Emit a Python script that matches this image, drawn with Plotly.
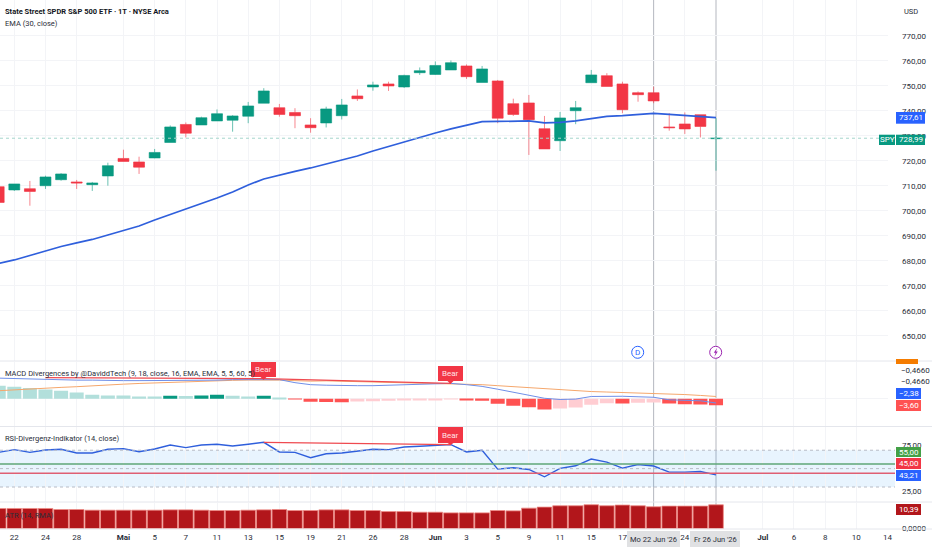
import plotly.graph_objects as go

# candle data, one entry per daily bar
opens = [709.6, 708.3, 708.8, 710.0, 712.4, 711.5, 710.4, 713.9, 720.9, 719.5, 721.1, 727.3, 734.5, 734.3, 735.9, 736.2,
         737.8, 743.0, 741.2, 739.3, 734.3, 735.1, 738.0, 745.9, 749.5, 750.7, 749.5, 755.2, 754.5, 756.3, 757.9, 751.3,
         751.9, 742.8, 743.1, 732.8, 728.0, 740.0, 751.2, 754.0, 750.7, 747.2, 747.2, 733.5, 734.7, 738.4, 728.8]
highs = [710.0, 710.7, 711.9, 714.0, 715.0, 712.3, 711.5, 719.2, 724.4, 721.6, 724.7, 734.1, 735.3, 737.6, 740.5, 738.2,
         743.5, 749.0, 742.7, 741.0, 737.0, 741.6, 744.7, 748.5, 751.6, 751.6, 754.4, 757.3, 759.7, 760.1, 758.5, 757.9,
         752.3, 744.8, 746.3, 737.9, 739.5, 743.9, 756.3, 755.0, 751.6, 747.7, 749.6, 739.0, 739.3, 738.4, 737.0]
lows = [703.0, 707.9, 702.0, 708.7, 712.0, 708.7, 707.9, 710.0, 719.7, 714.7, 721.0, 727.3, 729.3, 734.3, 735.9, 731.6,
        735.0, 743.0, 737.6, 733.0, 731.2, 733.3, 736.5, 743.9, 748.0, 747.9, 749.1, 754.3, 754.3, 756.3, 752.7, 751.3,
        735.0, 737.9, 722.3, 724.7, 723.9, 734.6, 751.2, 749.7, 739.0, 743.6, 743.0, 732.0, 730.7, 729.3, 716.0]
closes = [703.3, 710.7, 707.7, 713.5, 714.7, 711.1, 711.1, 718.0, 719.7, 717.4, 723.3, 733.5, 731.0, 737.2, 738.8, 737.9,
          741.9, 747.9, 738.5, 738.0, 733.2, 740.7, 742.3, 744.8, 750.3, 749.9, 754.1, 756.0, 758.1, 759.2, 753.6, 756.7,
          737.0, 738.5, 736.4, 724.7, 737.1, 741.2, 754.3, 749.7, 740.4, 746.4, 743.9, 733.2, 732.7, 733.7, 728.99]
ema = [678.9, 680.3, 682.1, 683.9, 685.7, 687.1, 688.5, 690.3, 692.1, 693.9, 696.3, 698.5, 700.7, 702.7, 705.1, 707.5,
       710.3, 712.7, 714.3, 715.7, 717.1, 718.7, 720.1, 721.9, 723.9, 725.7, 727.7, 729.5, 731.1, 732.7, 734.3, 735.6,
       735.7, 735.8, 735.9, 735.1, 735.3, 735.9, 736.9, 737.7, 738.0, 738.5, 738.9, 738.5, 738.1, 737.7, 737.2]

macd_hist = [7.43, 6.86, 6.1, 5.33, 4.57, 3.62, 2.29, 1.9, 1.85, 1.33, 1.3, 1.71, 1.62, 1.81, 2.29, 1.71,
             1.33, 1.71, 0.76, -0.38, -1.71, -1.8, -1.9, -1.52, -1.33, -1.14, -0.95, -0.76, -0.57, -0.38, -0.95, -1.05,
             -2.86, -4.0, -4.76, -6.1, -5.52, -4.95, -3.43, -2.48, -2.67, -2.29, -2.1, -2.67, -3.05, -3.24, -3.6]
macd_line = [11.71, 11.43, 11.14, 10.86, 10.86, 10.57, 10.57, 10.29, 10.29, 10.29, 10.29, 10.29, 10.57, 10.57, 10.57, 10.86,
             10.86, 11.14, 10.86, 9.14, 8.0, 7.71, 7.43, 7.43, 7.43, 7.71, 8.0, 8.29, 8.57, 8.74, 8.0, 7.03,
             5.43, 3.71, 2.29, 0.29, -0.4, -0.17, 1.31, 1.54, 1.43, 1.14, 0.86, -0.57, -0.86, -1.14, -2.38]
macd_signal = [4.57, 5.14, 5.6, 6.0, 6.46, 6.86, 7.43, 7.89, 8.29, 8.69, 9.03, 9.37, 9.71, 10.0, 10.29, 10.46,
               10.63, 10.74, 10.57, 10.29, 10.0, 10.17, 9.94, 9.71, 9.54, 9.31, 9.14, 9.03, 8.86, 8.74, 8.46, 8.0,
               7.43, 6.86, 6.29, 5.6, 5.03, 4.57, 4.11, 3.83, 3.54, 3.37, 3.2, 2.86, 2.4, 1.89, 1.31]
rsi = [67.7, 70.6, 67.7, 70.3, 71.0, 67.0, 67.0, 71.0, 71.7, 68.4, 71.3, 75.7, 72.8, 75.7, 76.5, 74.6,
       76.5, 78.6, 68.1, 67.7, 61.9, 66.2, 67.0, 69.2, 71.0, 70.6, 73.5, 74.3, 75.0, 76.1, 68.1, 69.9,
       49.5, 50.9, 49.1, 41.1, 50.2, 53.1, 60.4, 57.1, 50.6, 54.5, 52.8, 46.2, 46.2, 46.9, 43.21]
atr = [8.78, 8.78, 8.78, 8.78, 8.33, 8.33, 8.04, 8.04, 8.04, 8.04, 8.04, 8.18, 8.18, 8.04, 7.89, 7.89,
       8.04, 8.18, 8.33, 7.89, 7.89, 8.18, 8.18, 7.89, 7.89, 7.44, 7.44, 7.14, 7.14, 6.85, 6.85, 6.85,
       7.89, 7.74, 8.93, 9.38, 9.97, 9.97, 10.42, 9.97, 10.27, 9.97, 9.52, 9.82, 9.82, 9.82, 10.39]

# divergence lines: bar index and value
div_x = [3, 17, None, 17, 29]
div_macd = [12.0, 11.43, None, 11.43, 8.74]
div_rsi_x = [17, 29]
div_rsi = [78.6, 76.1]

tick_bars = [1, 3, 5, 8, 10, 12, 14, 16, 18, 20, 22, 24, 26, 28, 30, 32, 34, 36, 38, 40, 44, 49, 51, 53, 55, 57]
tick_text = ['22', '24', '28', '<b>Mai</b>', '5', '7', '11', '13', '15', '19', '21', '26', '28', '<b>Jun</b>', '3', '5', '9',
             '11', '15', '17', '24', '<b>Jul</b>', '6', '8', '10', '14']
price_ticks = [650, 660, 670, 680, 690, 700, 710, 720, 730, 740, 750, 760, 770]

W, H = 932, 550
FONT = 'Roboto'
FS = 8
LEGEND_FS = 7.5
TEXT = '#2a2e39'
GRID = '#f3f4f7'
bars = list(range(len(closes)))


def hist_color(i):
    prev = macd_hist[i - 1] if i else macd_hist[i] + 1
    if macd_hist[i] >= 0:
        return '#089981' if macd_hist[i] > prev else '#b2dfdb'
    return '#ff5252' if macd_hist[i] < prev else '#ffcdd2'


def ydom(top, bottom):
    return [1 - bottom / H, 1 - top / H]


fig = go.Figure()
fig.add_trace(go.Candlestick(x=bars, open=opens, high=highs, low=lows, close=closes, whiskerwidth=0, yaxis='y',
                             increasing=dict(line=dict(color='rgba(8,153,129,0.6)', width=1), fillcolor='#089981'),
                             decreasing=dict(line=dict(color='rgba(242,54,69,0.6)', width=1), fillcolor='#f23645')))
fig.add_trace(go.Scatter(x=bars, y=ema, mode='lines', line=dict(color='#2f5fdc', width=1.7), yaxis='y'))

fig.add_trace(go.Bar(x=bars, y=macd_hist, width=0.9, marker=dict(color=[hist_color(i) for i in bars], line_width=0), yaxis='y2'))
fig.add_trace(go.Scatter(x=bars, y=macd_signal, mode='lines', line=dict(color='#f5a76c', width=1), yaxis='y2'))
fig.add_trace(go.Scatter(x=bars, y=macd_line, mode='lines', line=dict(color='#6f8fe8', width=1), yaxis='y2'))
fig.add_trace(go.Scatter(x=div_x, y=div_macd, mode='lines', line=dict(color='#ef4a50', width=1.2), yaxis='y2'))

fig.add_trace(go.Scatter(x=bars, y=rsi, mode='lines', line=dict(color='#2f5fdc', width=1.4), yaxis='y3'))
fig.add_trace(go.Scatter(x=div_rsi_x, y=div_rsi, mode='lines', line=dict(color='#ef4a50', width=1.2), yaxis='y3'))

fig.add_trace(go.Bar(x=bars, y=atr, width=0.94, marker=dict(color='#b2161b', line=dict(color='#ee8a85', width=0.8)), yaxis='y4'))

shapes = []
notes = []


def px_rect(x0, y0, x1, y1, color, **kw):
    shapes.append(dict(type='rect', xref='paper', yref='paper', x0=x0 / W, x1=x1 / W, y0=1 - y1 / H, y1=1 - y0 / H,
                       fillcolor=color, line_width=0, **kw))


def px_text(x, y, text, color=TEXT, size=FS, anchor='left'):
    notes.append(dict(xref='paper', yref='paper', x=x / W, y=1 - y / H, text=text, showarrow=False, xanchor=anchor,
                      yanchor='middle', font=dict(color=color, size=size, family=FONT), borderpad=0, borderwidth=0))


def tag(x0, x1, y0, y1, text, color, text_color='white'):
    px_rect(x0, y0, x1, y1, color)
    px_text((x0 + x1) / 2, (y0 + y1) / 2, text, text_color, FS, 'center')


def bear(x0, x1, y0, y1, tip):
    px_rect(x0, y0, x1, y1, '#f23645')
    cx = (x0 + x1) / 2
    shapes.append(dict(type='path', xref='paper', yref='paper', fillcolor='#f23645', line_width=0,
                       path=f'M {(cx - 3) / W} {1 - y1 / H} L {(cx + 3) / W} {1 - y1 / H} L {cx / W} {1 - tip / H} Z'))
    px_text(cx, (y0 + y1) / 2, 'Bear', '#ffe3e5', FS, 'center')


# panel separators
for sep in [361, 426.5, 502, 529]:
    shapes.append(dict(type='line', xref='paper', yref='paper', x0=0, x1=1, y0=1 - sep / H, y1=1 - sep / H,
                       line=dict(color='#e4e6ec', width=1)))

# crosshair style verticals at 22 and 26 Jun
for b in [42, 46]:
    shapes.append(dict(type='line', xref='x', yref='paper', x0=b, x1=b, y0=1 - 529 / H, y1=1, layer='below',
                       line=dict(color='#b4b7bf', width=1)))

# last price line
shapes.append(dict(type='line', xref='paper', yref='y', x0=0, x1=888 / W, y0=closes[-1], y1=closes[-1],
                   line=dict(color='#a5d6cc', width=1, dash='dot')))

# RSI band and levels
shapes.append(dict(type='rect', xref='paper', yref='y3', x0=0, x1=895 / W, y0=30, y1=70, fillcolor='rgba(33,150,243,0.1)',
                   line_width=0, layer='below'))
for lvl in [70, 50, 30]:
    shapes.append(dict(type='line', xref='paper', yref='y3', x0=0, x1=895 / W, y0=lvl, y1=lvl,
                       line=dict(color='#b8bcc6', width=1, dash='dot')))
shapes.append(dict(type='line', xref='paper', yref='y3', x0=0, x1=895 / W, y0=55, y1=55, line=dict(color='#5fa777', width=1.3)))
shapes.append(dict(type='line', xref='paper', yref='y3', x0=0, x1=895 / W, y0=45, y1=45, line=dict(color='#df5f73', width=1.5)))

# event markers
for cx, col in [(637.7, '#2962ff'), (715.7, '#9c27b0')]:
    shapes.append(dict(type='circle', xref='paper', yref='paper', x0=(cx - 6) / W, x1=(cx + 6) / W, y0=1 - 358.3 / H,
                       y1=1 - 346.3 / H, fillcolor='white', line=dict(color=col, width=1)))
px_text(637.7, 352.3, 'D', '#2962ff', FS, 'center')
bolt = [(717.2, 347.8), (713.8, 352.8), (715.6, 352.8), (714.4, 356.8), (717.8, 351.6), (716, 351.6)]
shapes.append(dict(type='path', xref='paper', yref='paper', fillcolor='#9c27b0', line_width=0,
                   path='M ' + ' L '.join(f'{x / W} {1 - y / H}' for x, y in bolt) + ' Z'))

# legends
px_text(5, 11, '<b>State Street SPDR S&P 500 ETF · 1T · NYSE Arca</b>', '#131722', LEGEND_FS)
px_text(5, 23, 'EMA (30, close)', TEXT, LEGEND_FS)
px_text(5, 373, 'MACD Divergences by @DaviddTech (9, 18, close, 16, EMA, EMA, 5, 5, 60, 5)', TEXT, LEGEND_FS)
px_text(5, 438, 'RSI-Divergenz-Indikator (14, close)', TEXT, LEGEND_FS)
px_text(5, 515, 'ATR (14, RMA)', TEXT, LEGEND_FS)
px_text(904, 11, 'USD', TEXT, 7.5)

bear(251, 276, 362, 377, 380)
bear(438, 463, 366, 381, 384)
bear(438, 463, 427, 443, 445)

# value tags on the right scale
tag(896, 925, 112, 123.7, '737,61', '#2962ff')
tag(879, 895, 134.7, 145, 'SPY', '#089981')
tag(896, 925, 134.7, 145, '728,99', '#089981')
px_rect(896, 359, 918, 364, '#f57c00')
px_text(901, 370, '−0,4660')
px_text(901, 381, '−0,4660')
tag(896, 921, 388, 399, '−2,38', '#2962ff')
tag(896, 921, 400, 411, '−3,60', '#ff5252')
tag(896, 921, 447, 457, '55,00', '#43a047')
tag(896, 921, 458, 469, '45,00', '#f23645')
tag(896, 921, 470, 481, '43,21', '#2962ff')
tag(896, 921, 504, 515, '10,39', '#b2161b')

# date boxes on the time scale
px_rect(627, 531, 680, 547, '#e0e1e3')
px_text(653.5, 539, "Mo 22 Jun '26", TEXT, LEGEND_FS, 'center')
px_rect(690, 531, 740, 547, '#e0e1e3')
px_text(715, 539, "Fr 26 Jun '26", TEXT, LEGEND_FS, 'center')

right_axis = dict(side='right', anchor='x', zeroline=False, showline=False, ticks='', ticklabelstandoff=13,
                  tickfont=dict(color=TEXT, size=FS, family=FONT))

fig.update_layout(
    width=W, height=H, template='none', showlegend=False, paper_bgcolor='white', plot_bgcolor='white',
    margin=dict(l=0, r=0, t=0, b=0), separators=',.', barmode='overlay', boxgap=0, shapes=shapes, annotations=notes,
    xaxis=dict(domain=[0, 888 / W], range=[0.083, 57.03], anchor='y4', tickmode='array', tickvals=tick_bars, ticktext=tick_text,
               tickangle=0, showgrid=True, gridcolor=GRID, zeroline=False, showline=False, ticks='', ticklabelstandoff=2,
               tickfont=dict(color=TEXT, size=FS, family=FONT), rangeslider=dict(visible=False)),
    yaxis=dict(domain=ydom(0, 361), range=[639.88, 784.28], tickmode='array', tickvals=price_ticks, tickformat='.2f',
               showgrid=True, gridcolor=GRID, **right_axis),
    yaxis2=dict(domain=ydom(361.5, 426), range=[-15.43, 21.14], tickmode='array', tickvals=[0], showticklabels=False,
                showgrid=True, gridcolor=GRID, **right_axis),
    yaxis3=dict(domain=ydom(426.5, 502), range=[13.7, 95.8], tickmode='array', tickvals=[25, 75], tickformat='.2f',
                showgrid=False, **right_axis),
    yaxis4=dict(domain=ydom(502.5, 529), range=[-0.2, 11.4], tickmode='array', tickvals=[0], tickformat='.4f',
                showgrid=False, **right_axis),
)

# drop the browser's default body margin so the chart sits at the window edge
fig.write_html("out.html", config={'displayModeBar': False}, post_script="document.body.style.margin='0';")
